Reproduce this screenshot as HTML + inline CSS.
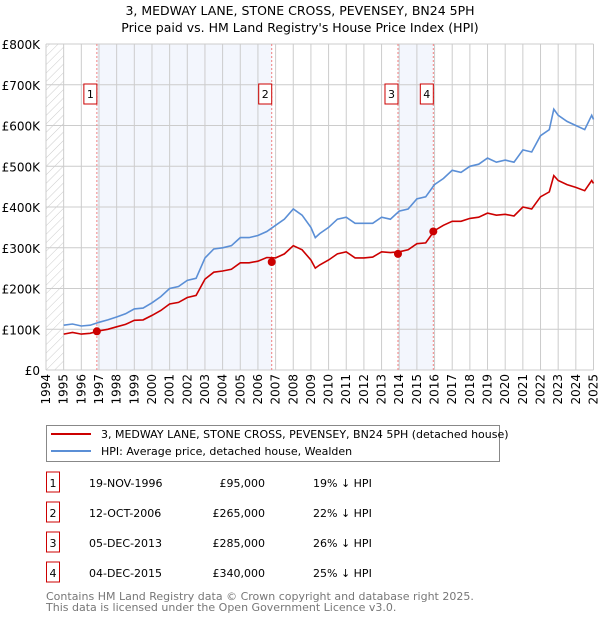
<!DOCTYPE html>
<html><head><meta charset="utf-8"><style>
body{margin:0;background:#fff;font-family:"Liberation Sans","DejaVu Sans",sans-serif;}
svg text{font-family:"DejaVu Sans","Liberation Sans",sans-serif;}
</style></head><body>
<svg width="600" height="620" viewBox="0 0 600 620" xmlns="http://www.w3.org/2000/svg">
<defs><pattern id="hatch" width="6" height="6" patternUnits="userSpaceOnUse" patternTransform="rotate(45)"><line x1="0" y1="0" x2="0" y2="6" stroke="#ccc" stroke-width="1"/></pattern></defs>
<text x="300" y="15" text-anchor="middle" font-size="12.5">3, MEDWAY LANE, STONE CROSS, PEVENSEY, BN24 5PH</text>
<text x="300" y="32" text-anchor="middle" font-size="12.5">Price paid vs. HM Land Registry's House Price Index (HPI)</text>
<g id="plot"></g>
<g>
<rect x="46.5" y="425.5" width="453" height="36" fill="#fff" stroke="#888"/>
<line x1="51" y1="434" x2="91" y2="434" stroke="#cc0000" stroke-width="2"/>
<text x="101" y="438" font-size="11">3, MEDWAY LANE, STONE CROSS, PEVENSEY, BN24 5PH (detached house)</text>
<line x1="51" y1="451" x2="91" y2="451" stroke="#5b8fd6" stroke-width="2"/>
<text x="101" y="455" font-size="11">HPI: Average price, detached house, Wealden</text>
</g>
<g id="table" font-size="11"></g>
<text x="46" y="600" font-size="11" fill="#777">Contains HM Land Registry data © Crown copyright and database right 2025.</text>
<text x="46" y="611" font-size="11" fill="#777">This data is licensed under the Open Government Licence v3.0.</text>
</svg>
<script>
const hpiT=[1995,1995.5,1996,1996.5,1997,1997.5,1998,1998.5,1999,1999.5,2000,2000.5,2001,2001.5,2002,2002.5,2003,2003.5,2004,2004.5,2005,2005.5,2006,2006.5,2007,2007.5,2008,2008.5,2009,2009.25,2009.5,2010,2010.5,2011,2011.5,2012,2012.5,2013,2013.5,2014,2014.5,2015,2015.5,2016,2016.5,2017,2017.5,2018,2018.5,2019,2019.5,2020,2020.5,2021,2021.5,2022,2022.5,2022.75,2023,2023.5,2024,2024.5,2024.9,2025];
const hpiV=[110,113,108,110,117,123,130,138,150,152,165,180,200,205,220,225,275,297,300,305,325,325,330,340,355,370,395,380,350,325,335,350,370,375,360,360,360,375,370,390,395,420,425,455,470,490,485,500,505,520,510,515,510,540,535,575,590,640,625,610,600,590,625,615];
const redV=[88,92,88,90,96,100,106,112,122,123,134,146,162,166,178,183,223,240,243,247,263,263,267,276,275,285,305,295,270,250,258,270,285,290,275,275,277,290,288,290,295,310,312,342,355,365,365,372,375,385,380,382,378,400,395,425,437,477,465,455,448,440,465,458];
const saleNums=["1","2","3","4"];
const saleT=[1996.88,2006.78,2013.93,2015.93];
const saleV=[95,265,285,340];
const saleDates=["19-NOV-1996","12-OCT-2006","05-DEC-2013","04-DEC-2015"];
const salePrices=["£95,000","£265,000","£285,000","£340,000"];
const saleHpi=["19% ↓ HPI","22% ↓ HPI","26% ↓ HPI","25% ↓ HPI"];
const yTicks=[0,100,200,300,400,500,600,700,800];
const yLabels=["£0","£100K","£200K","£300K","£400K","£500K","£600K","£700K","£800K"];
const xYears=[1994,1995,1996,1997,1998,1999,2000,2001,2002,2003,2004,2005,2006,2007,2008,2009,2010,2011,2012,2013,2014,2015,2016,2017,2018,2019,2020,2021,2022,2023,2024,2025];
const X0=46,X1=593.5,Y0=370,Y1=44;
const x=t=>X0+(t-1994)/31*(X1-X0);
const y=v=>Y0-v/800*(Y0-Y1);
const NS="http://www.w3.org/2000/svg";
function mk(p,tag,a){const e=document.createElementNS(NS,tag);for(const k in a)e.setAttribute(k,a[k]);p.appendChild(e);return e;}
const g=document.getElementById('plot');
const sh1=mk(g,'rect',{x:x(saleT[0]),y:Y1,width:x(saleT[1])-x(saleT[0]),height:Y0-Y1,fill:'#f3f6fd'});


const sh2=mk(g,'rect',{x:x(saleT[2]),y:Y1,width:x(saleT[3])-x(saleT[2]),height:Y0-Y1,fill:'#f3f6fd'});


const hat=mk(g,'rect',{x:X0,y:Y1,width:x(1995)-X0,height:Y0-Y1,fill:'url(#hatch)'});


xYears.forEach(t=>{const l=mk(g,'line',{x1:x(t),x2:x(t),y1:Y1,y2:Y0,stroke:'#ccc'});


const tx=mk(g,'text',{x:0,y:0,'font-size':12,'text-anchor':'end',transform:`translate(${x(t)+4},${Y0+4}) rotate(-90)`});tx.textContent=t;

});
yTicks.forEach((v,i)=>{const l=mk(g,'line',{x1:X0,x2:X1,y1:y(v),y2:y(v),stroke:'#ccc'});


const tx=mk(g,'text',{x:40,y:y(v)+5,'font-size':12,'text-anchor':'end'});tx.textContent=yLabels[i];

});
saleT.forEach((t,i)=>{const l=mk(g,'line',{x1:x(t),x2:x(t),y1:Y1,y2:Y0,stroke:'#f08080','stroke-dasharray':'2,2'});


const bx=mk(g,'rect',{x:x(t)-13,y:84,width:13,height:20,fill:'#fff',stroke:'#cc0000'});


const tx=mk(g,'text',{x:x(t)-6.5,y:98,'font-size':11,'text-anchor':'middle'});tx.textContent=saleNums[i];

});
const pts=v=>hpiT.map((t,i)=>x(t).toFixed(1)+','+y(v[i]).toFixed(1)).join(' ');
const hl=mk(g,'polyline',{points:pts(hpiV),fill:'none',stroke:'#5b8fd6','stroke-width':1.6});


const rl=mk(g,'polyline',{points:pts(redV),fill:'none',stroke:'#cc0000','stroke-width':1.6});


saleT.forEach((t,i)=>{const c=mk(g,'circle',{cx:x(t),cy:y(saleV[i]),r:4,fill:'#cc0000'});

});
const tb=document.getElementById('table');
saleNums.forEach((n,i)=>{const ry=483+i*30;
const b=mk(tb,'rect',{x:46.5,y:ry-11,width:13,height:20,fill:'#fff',stroke:'#cc0000'});


const cols=[[53,n,'middle'],[89,saleDates[i],'start'],[265,salePrices[i],'end'],[313,saleHpi[i],'start']];
cols.forEach(c=>{const t=mk(tb,'text',{x:c[0],y:ry+4,'text-anchor':c[2]});t.textContent=c[1];

});});
</script>
</body></html>
